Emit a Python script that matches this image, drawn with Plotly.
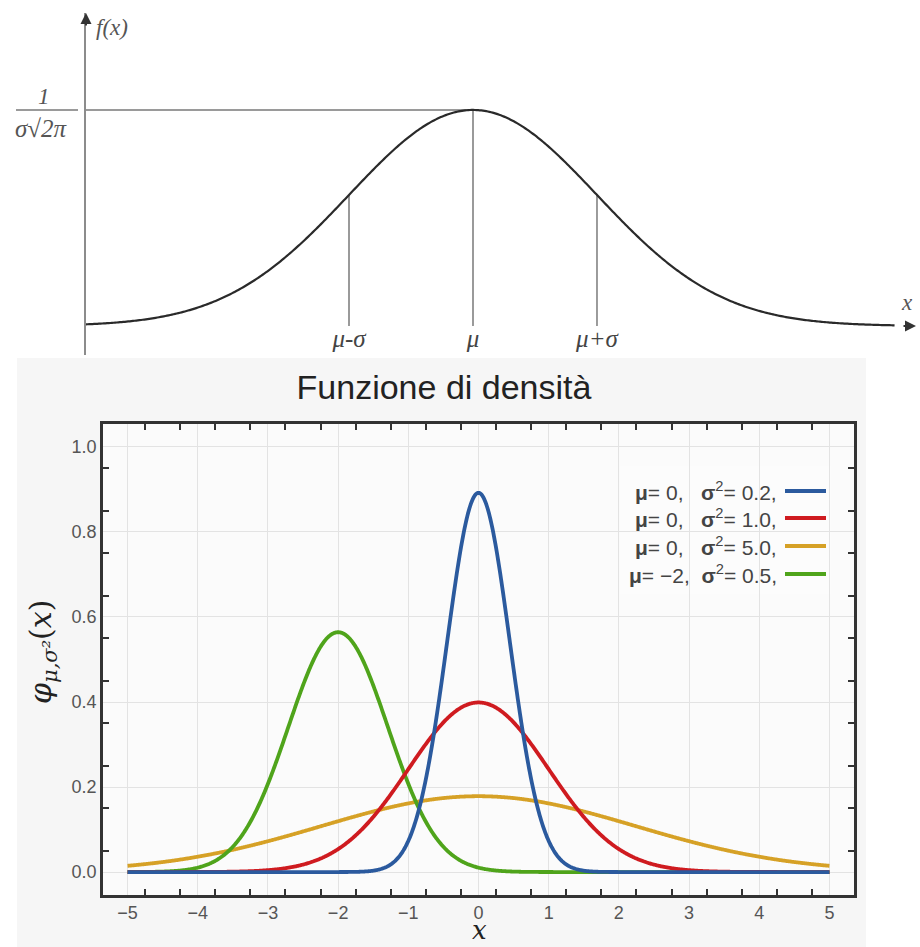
import numpy as np
import plotly.graph_objects as go

# ---------------------------------------------------------------
# Data
# ---------------------------------------------------------------
# Parameters of the four normal densities (legend order)
mu_values = [0.0, 0.0, 0.0, -2.0]
sigma2_values = [0.2, 1.0, 5.0, 0.5]
series_colors = ["#2b5a9e", "#cf1b20", "#d6a126", "#4fa41b"]
legend_labels = [
    "<b>μ</b>= 0,   <b>σ</b><sup>2</sup>= 0.2,",
    "<b>μ</b>= 0,   <b>σ</b><sup>2</sup>= 1.0,",
    "<b>μ</b>= 0,   <b>σ</b><sup>2</sup>= 5.0,",
    "<b>μ</b>= −2,  <b>σ</b><sup>2</sup>= 0.5,",
]

# Axis ticks of the density plot
x_tick_values = [-5, -4, -3, -2, -1, 0, 1, 2, 3, 4, 5]
x_tick_labels = ["−5", "−4", "−3", "−2", "−1", "0", "1", "2", "3", "4", "5"]
y_tick_values = [0.0, 0.2, 0.4, 0.6, 0.8, 1.0]
y_tick_labels = ["0.0", "0.2", "0.4", "0.6", "0.8", "1.0"]

# Schematic bell curve (standardised units, μ = 0, σ = 1)
schematic_marks = [-1.0, 0.0, 1.0]
schematic_labels = ["<i>μ-σ</i>", "<i>μ</i>", "<i>μ+σ</i>"]


def normal_pdf(x, mu, s2):
    return np.exp(-(x - mu) ** 2 / (2.0 * s2)) / np.sqrt(2.0 * np.pi * s2)


W, H = 920, 947


def px(xp):
    return xp / W


def py(yp):
    return 1.0 - yp / H


fig = go.Figure()

# ---------------------------------------------------------------
# Upper sketch
# ---------------------------------------------------------------
sk_xrange = [-3.121, 3.573]
sk_yrange = [-0.0536, 0.578]

sk_x = np.linspace(sk_xrange[0], 3.4, 500)
sk_y = normal_pdf(sk_x, 0.0, 1.0)
peak = normal_pdf(0.0, 0.0, 1.0)

# guide lines: verticals at μ-σ, μ, μ+σ and the horizontal at the peak
gx, gy = [], []
for m in schematic_marks:
    gx += [m, m, None]
    gy += [0.0, normal_pdf(m, 0.0, 1.0), None]
gx += [sk_xrange[0], 0.0]
gy += [peak, peak]
fig.add_trace(go.Scatter(x=gx, y=gy, mode="lines", xaxis="x2", yaxis="y2",
                         line=dict(color="#9a9a9a", width=2),
                         hoverinfo="skip", showlegend=False))
fig.add_trace(go.Scatter(x=sk_x, y=sk_y, mode="lines", xaxis="x2", yaxis="y2",
                         line=dict(color="#2a2a2a", width=2.2, simplify=False),
                         hoverinfo="skip", showlegend=False))

# ---------------------------------------------------------------
# Density curves (drawn back to front)
# ---------------------------------------------------------------
xs = np.linspace(-5, 5, 1001)
for i in [2, 3, 1, 0]:
    fig.add_trace(go.Scatter(
        x=xs, y=normal_pdf(xs, mu_values[i], sigma2_values[i]),
        mode="lines", xaxis="x", yaxis="y",
        line=dict(color=series_colors[i], width=3.8, simplify=False),
        showlegend=False, hoverinfo="skip"))

# ---------------------------------------------------------------
# Axes
# ---------------------------------------------------------------
frame = "#333333"
sans = "Liberation Sans"
serif = "Liberation Serif"

x_dom = [px(103), px(854)]
y_dom = [py(895), py(424)]
x_rng = [-5.35, 5.35]
y_rng = [-0.054, 1.054]

x_quarters = [v for v in np.arange(-4.75, 5.0, 0.5)]
x_halves = [v for v in np.arange(-4.5, 5.0, 1.0)]
y_small = [round(v, 2) for v in np.arange(0.05, 1.0, 0.1)]
y_long = [round(v, 2) for v in np.arange(0.1, 1.0, 0.2)]

common_line = dict(showline=True, linecolor=frame, linewidth=2.5,
                   mirror="ticks", zeroline=False, automargin=False)

fig.update_layout(
    xaxis=dict(domain=x_dom, range=x_rng, anchor="y",
               tickmode="array", tickvals=x_tick_values, ticktext=x_tick_labels,
               ticks="", showgrid=True, gridcolor="#e3e3e3", gridwidth=1,
               tickfont=dict(family=sans, size=18, color="#555555"),
               minor=dict(tickmode="array", tickvals=x_quarters, ticks="inside",
                          ticklen=6, tickwidth=1.5, tickcolor=frame, showgrid=False),
               **common_line),
    xaxis3=dict(overlaying="x", anchor="y", range=x_rng,
                tickmode="array", tickvals=x_halves, ticks="inside", ticklen=11,
                tickwidth=1.5, tickcolor=frame, showticklabels=False,
                showgrid=False, **common_line),
    yaxis=dict(domain=y_dom, range=y_rng, anchor="x",
               tickmode="array", tickvals=y_tick_values, ticktext=y_tick_labels,
               ticks="", showgrid=True, gridcolor="#e3e3e3", gridwidth=1,
               tickfont=dict(family=sans, size=18, color="#555555"),
               minor=dict(tickmode="array", tickvals=y_small, ticks="inside",
                          ticklen=6, tickwidth=1.5, tickcolor=frame, showgrid=False),
               **common_line),
    yaxis3=dict(overlaying="y", anchor="x", range=y_rng, side="left",
                tickmode="array", tickvals=y_long, ticks="inside", ticklen=11,
                tickwidth=1.5, tickcolor=frame, showticklabels=False,
                showgrid=False, **common_line),
    # sketch axes
    xaxis2=dict(domain=[px(86), px(916)], range=sk_xrange, anchor="y2",
                showgrid=False, zeroline=False, showline=False, ticks="",
                automargin=False,
                tickmode="array", tickvals=schematic_marks, ticktext=schematic_labels,
                ticklabelposition="inside",
                tickfont=dict(family=serif, size=25, color="#444444")),
    yaxis2=dict(domain=[py(355), py(13)], range=sk_yrange, anchor="x2",
                showgrid=False, zeroline=True, zerolinecolor="#8c8c8c",
                zerolinewidth=2, showline=True, linecolor="#8c8c8c",
                automargin=False,
                linewidth=2, showticklabels=False, ticks=""),
)

# ---------------------------------------------------------------
# Backgrounds, legend and decorations
# ---------------------------------------------------------------
shapes = [
    dict(type="rect", xref="paper", yref="paper", x0=px(17), x1=px(866),
         y0=0, y1=py(358), fillcolor="#f6f6f6", line=dict(width=0), layer="below"),
    dict(type="rect", xref="x domain", yref="y domain", x0=0, x1=1, y0=0, y1=1,
         fillcolor="#fbfbfb", line=dict(width=0), layer="below"),
    dict(type="rect", xref="paper", yref="paper", x0=px(620), x1=px(831),
         y0=py(594), y1=py(466), fillcolor="#fcfcfc", line=dict(width=0),
         layer="between"),
    # fraction bar of the peak label
    dict(type="line", xref="paper", yref="paper", x0=px(16), x1=px(78),
         y0=py(110), y1=py(110), line=dict(color="#9a9a9a", width=2)),
]

annotations = []
legend_rows = [491, 518, 546, 574]
for lab, col, row in zip(legend_labels, series_colors, legend_rows):
    annotations.append(dict(text=lab, xref="paper", yref="paper",
                            x=px(779), y=py(row), xanchor="right", yanchor="middle",
                            showarrow=False,
                            font=dict(family=sans, size=21, color="#444444")))
    shapes.append(dict(type="line", xref="paper", yref="paper",
                       x0=px(785), x1=px(826), y0=py(row), y1=py(row),
                       line=dict(color=col, width=4)))

# axis titles of the density plot
annotations += [
    dict(text="<i>x</i>", xref="paper", yref="paper", x=px(479), y=py(946),
         xanchor="center", yanchor="bottom", showarrow=False, borderpad=0,
         font=dict(family="DejaVu Serif", size=26, color="#222222")),
    dict(text="<i>φ</i><sub><i>μ,σ²</i></sub>(<i>x</i>)", xref="paper", yref="paper",
         x=px(42), y=py(652), xanchor="center", yanchor="middle", textangle=-90,
         showarrow=False,
         font=dict(family="DejaVu Serif", size=30, color="#222222")),
]

# sketch labels
annotations += [
    dict(text="<i>f(x)</i>", xref="paper", yref="paper", x=px(94), y=py(27),
         xanchor="left", yanchor="middle", showarrow=False,
         font=dict(family=serif, size=23, color="#555555")),
    dict(text="<i>1</i>", xref="paper", yref="paper", x=px(44), y=py(96),
         xanchor="center", yanchor="middle", showarrow=False,
         font=dict(family=serif, size=23, color="#555555")),
    dict(text="<i>σ</i>√<i>2π</i>", xref="paper", yref="paper", x=px(41), y=py(129),
         xanchor="center", yanchor="middle", showarrow=False,
         font=dict(family=serif, size=25, color="#555555")),
    dict(text="<i>x</i>", xref="paper", yref="paper", x=px(907), y=py(302),
         xanchor="center", yanchor="middle", showarrow=False,
         font=dict(family=serif, size=23, color="#555555")),
    # arrowheads of the sketch axes
    dict(x=sk_xrange[0], y=sk_yrange[1], xref="x2", yref="y2", text="",
         showarrow=True, ax=0, ay=14, arrowhead=2, arrowsize=1.1,
         arrowwidth=2, arrowcolor="#333333", standoff=0),
    dict(x=sk_xrange[1], y=0.0, xref="x2", yref="y2", text="",
         showarrow=True, ax=-14, ay=0, arrowhead=2, arrowsize=1.1,
         arrowwidth=2, arrowcolor="#333333", standoff=0),
]

fig.update_layout(
    width=W, height=H, margin=dict(l=0, r=0, t=0, b=0, autoexpand=False),
    paper_bgcolor="white", plot_bgcolor="rgba(0,0,0,0)",
    showlegend=False,
    title=dict(text="Funzione di densità", x=px(444), xanchor="center",
               y=py(387), yanchor="middle", yref="paper", automargin=False,
               font=dict(family=sans, size=34, color="#222222")),
    shapes=shapes, annotations=annotations,
)

fig.write_html("out.html")
